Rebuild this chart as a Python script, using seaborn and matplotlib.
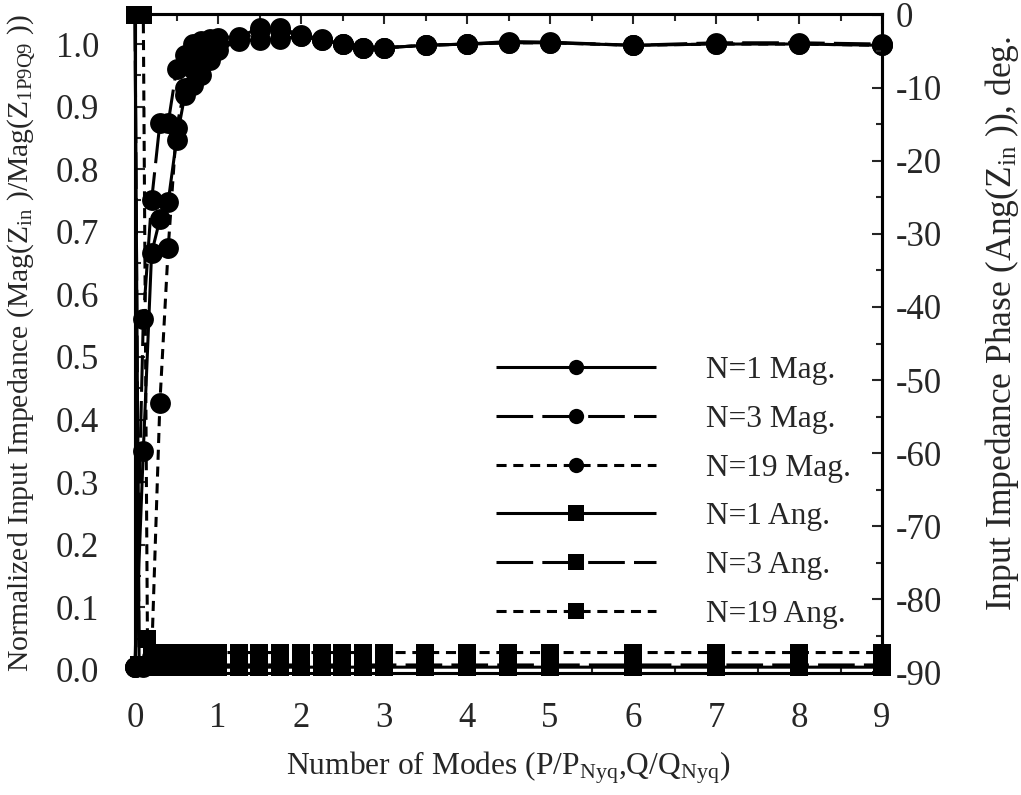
import matplotlib
matplotlib.use("Agg")
import matplotlib.pyplot as plt
import seaborn as sns
import numpy as np
import pandas as pd
from matplotlib.lines import Line2D
from matplotlib.ticker import MultipleLocator

# ---------------- data ----------------
x_mag = [0, 0.1, 0.2, 0.3, 0.4, 0.5, 0.6, 0.7, 0.8, 0.9, 1.0,
         1.25, 1.5, 1.75, 2.0, 2.25, 2.5, 2.75, 3.0, 3.5, 4.0, 4.5, 5.0, 6.0, 7.0, 8.0, 9.0]
n1_mag = [0.005, 0.35, 0.666, 0.72, 0.748, 0.847, 0.918, 0.934, 0.95, 0.974, 0.99,
          1.006, 1.006, 1.008, 1.013, 1.006, 1.0, 0.994, 0.994, 0.998, 1.0, 1.002, 1.002, 0.998, 1.0, 1.0, 0.998]
n3_mag = [0.005, 0.56, 0.75, 0.874, 0.874, 0.96, 0.982, 1.0, 1.005, 1.008, 1.01,
          1.012, 1.025, 1.025, 1.015, 1.008, 1.0, 0.994, 0.994, 0.998, 1.0, 1.004, 1.003, 0.998, 1.002, 1.002, 1.0]
n19_mag = [0.005, 0.005, 0.02, 0.427, 0.674, 0.866, 0.93, 0.96, 0.98, 0.99, 1.0,
           1.005, 1.022, 1.022, 1.013, 1.006, 1.0, 0.994, 0.994, 0.998, 1.0, 1.002, 1.002, 0.998, 1.0, 1.0, 0.998]

x_ang = [0, 0.05, 0.1, 0.15, 0.2, 0.25, 0.3, 0.35, 0.4, 0.45, 0.5, 0.55, 0.6, 0.65, 0.7,
         0.75, 0.8, 0.85, 0.9, 0.95, 1.0, 1.25, 1.5, 1.75, 2.0, 2.25, 2.5, 2.75, 3.0,
         3.5, 4.0, 4.5, 5.0, 6.0, 7.0, 8.0, 9.0]
n1_ang = [0] + [-89.3] * 36
n3_ang = [0] + [-89.0] * 36
n19_ang = [0, 0, 0, -85.5] + [-87.3] * 33

xlabel = r"Number of Modes (P/P$_{\mathrm{Nyq}}$,Q/Q$_{\mathrm{Nyq}}$)"
ylabel_left = r"Normalized Input Impedance (Mag(Z$_{\mathrm{in}}$ )/Mag(Z$_{\mathrm{1P9Q9}}$ ))"
ylabel_right = r"Input Impedance Phase (Ang(Z$_{\mathrm{in}}$ )), deg."
labels = ["N=1 Mag.", "N=3 Mag.", "N=19 Mag.", "N=1 Ang.", "N=3 Ang.", "N=19 Ang."]

# ---------------- style ----------------
sns.set_theme(style="ticks")
plt.rcParams["font.family"] = ["Liberation Serif", "DejaVu Serif"]
plt.rcParams["mathtext.fontset"] = "custom"
plt.rcParams["mathtext.rm"] = "Liberation Serif"
plt.rcParams["mathtext.it"] = "Liberation Serif:italic"
plt.rcParams["axes.unicode_minus"] = False
FS_TICK = 25
FS_XLAB = 22.7
FS_LLAB = 21.3
FS_RLAB = 25.5
FS_LEG = 22.6

fig = plt.figure(figsize=(10.21, 7.95), dpi=100)
ax = fig.add_axes([135 / 1021, 122 / 795, 747 / 1021, 659 / 795])
ax2 = ax.twinx()

LW = 2.2
styles = [(0, ()), (0, (12, 3)), (0, (3.3, 2.2))]

mag_series = [n1_mag, n3_mag, n19_mag]
ang_series = [n1_ang, n3_ang, n19_ang]

for ys, ls in zip(mag_series, styles):
    sns.lineplot(x=x_mag, y=ys, ax=ax, color="black", linewidth=LW, linestyle=ls,
                 marker="o", markersize=15, markeredgewidth=0, sort=False,
                 estimator=None, clip_on=False, legend=False)
for ys, ls in zip(ang_series, styles):
    sns.lineplot(x=x_ang, y=ys, ax=ax2, color="black", linewidth=LW, linestyle=ls,
                 marker="s", markersize=13, markeredgewidth=0, sort=False,
                 estimator=None, clip_on=False, legend=False)

ax.set_xlim(0, 9)
ax.set_ylim(-0.005, 1.048)
ax2.set_ylim(-90.1, 0.1)

ax.xaxis.set_major_locator(MultipleLocator(1))
ax.xaxis.set_minor_locator(MultipleLocator(0.5))
ax.yaxis.set_minor_locator(MultipleLocator(0.05))
ax2.yaxis.set_major_locator(MultipleLocator(10))
ax2.yaxis.set_minor_locator(MultipleLocator(5))
ax.set_yticks(np.arange(0, 1.01, 0.1))
ax.set_yticklabels([f"{v:.1f}" for v in np.arange(0, 1.01, 0.1)])

ax.tick_params(axis="x", which="both", direction="in", top=True, labelsize=FS_TICK, pad=21)
ax.tick_params(axis="x", which="major", length=7, width=1.5)
ax.tick_params(axis="x", which="minor", length=5, width=1.5)
ax.tick_params(axis="y", which="both", direction="in", labelsize=FS_TICK, pad=26)
ax.tick_params(axis="y", which="major", length=7, width=1.5)
ax.tick_params(axis="y", which="minor", length=4, width=1.5)
ax2.tick_params(axis="y", which="both", direction="in", labelsize=FS_TICK, pad=10)
ax2.tick_params(axis="y", which="major", length=7, width=1.5)
ax2.tick_params(axis="y", which="minor", length=4, width=1.5)

for a in (ax, ax2):
    for s in a.spines.values():
        s.set_linewidth(2.2)
        s.set_color("black")

ax.set_xlabel(xlabel, fontsize=FS_XLAB, labelpad=10)
ax.set_ylabel(ylabel_left, fontsize=FS_LLAB, labelpad=13)
ax2.set_ylabel(ylabel_right, fontsize=FS_RLAB, labelpad=29)
ax2.yaxis.label.set_y(0.53)

handles = []
for i, lab in enumerate(labels):
    handles.append(Line2D([], [], color="black", linewidth=LW, linestyle=styles[i % 3],
                          marker="o" if i < 3 else "s", markersize=11,
                          markeredgewidth=0))
ax2.legend(handles, labels, loc="upper left", bbox_to_anchor=(0.466, 0.5),
           frameon=False, fontsize=FS_LEG, handlelength=5.1, handletextpad=1.6,
           labelspacing=0.63, borderaxespad=0, markerfirst=True)

fig.savefig("out.png", dpi=100)
